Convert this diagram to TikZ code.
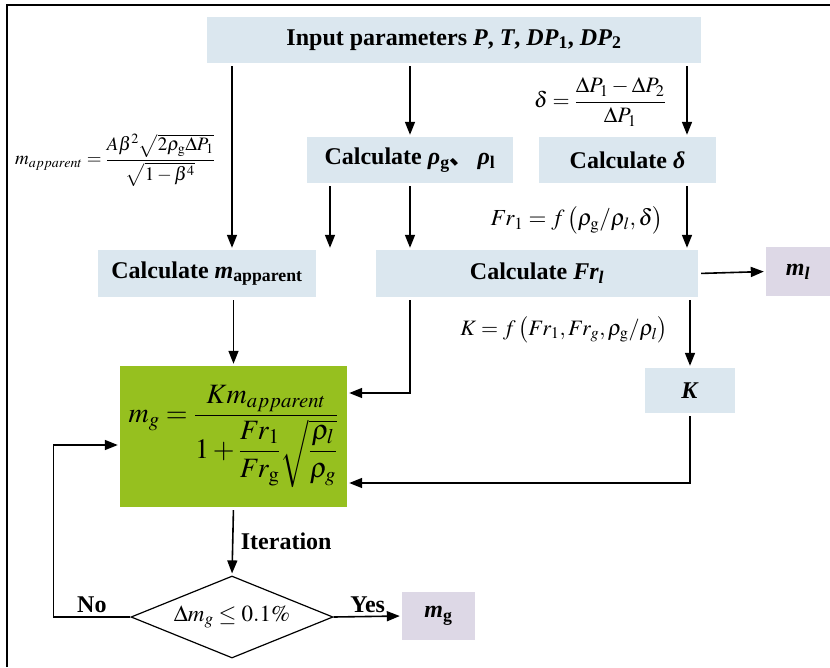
\documentclass[tikz,border=0pt]{standalone}
\usepackage{amsmath}
\usepackage{mathptmx}
\usepackage{fontspec}
\setmainfont{Liberation Serif}
\newfontfamily\cjk{Noto Sans CJK SC}
\usepackage{xcolor}
\usetikzlibrary{arrows.meta,shapes.geometric}

\definecolor{boxblue}{RGB}{219,231,239}
\definecolor{lav}{RGB}{221,216,230}
\definecolor{mgreen}{RGB}{150,192,31}

\begin{document}
\begin{tikzpicture}[x=1pt, y=-1pt,
  box/.style={fill=boxblue, minimum height=46pt, inner sep=0pt,
              font=\fontsize{24}{28}\selectfont\bfseries},
  res/.style={fill=lav, inner sep=0pt,
              font=\fontsize{24}{28}\selectfont\bfseries},
  eq/.style={inner sep=0pt, font=\fontsize{22}{26}\selectfont},
  lbl/.style={font=\fontsize{24}{28}\selectfont\bfseries},
  arr/.style={-{Triangle[length=13pt,width=10pt]}, line width=1.6pt,
              shorten <=3pt, shorten >=2pt}
]
  \useasboundingbox (0,0) rectangle (830,667);
  % frame (top and left only)
  \draw[line width=1.5pt] (7,667) -- (7,5) -- (830,5);
  % boxes
  \node[box, minimum width=494pt] (input) at (454,40)
    {Input parameters \textit{P}, \textit{T}, \textit{DP}\textsubscript{1}, \textit{DP}\textsubscript{2}};
  \node[box, minimum width=206pt] (rho)   at (410,160)
    {Calculate \textit{ρ}\textsubscript{g}{\cjk 、}\,\textit{ρ}\textsubscript{l}};
  \node[box, minimum width=177pt] (delta) at (627.5,160) {Calculate \textit{δ}};
  \node[box, minimum width=218pt, minimum height=47pt] (mapp) at (207,273.5)
    {Calculate \textit{m}\textsubscript{apparent}};
  \node[box, minimum width=322pt, minimum height=47pt] (fr) at (537,273.5)
    {Calculate \textit{Fr\textsubscript{l}}};
  \node[res, minimum width=64pt, minimum height=49pt] (ml) at (798,271.5) {\textit{m\textsubscript{l}}};
  \node[box, minimum width=90pt, minimum height=45pt] (K) at (690,390.5) {\textit{K}};
  \node[fill=mgreen, minimum width=227pt, minimum height=141pt, inner sep=0pt,
        font=\fontsize{28}{32}\selectfont] (mg) at (233.5,436.5)
    {$m_g=\dfrac{Km_{apparent}}{1+\dfrac{Fr_1}{Fr_{\mathrm{g}}}\sqrt{\dfrac{\rho_l}{\rho_g}}}$};
  \node[draw, diamond, aspect=2.5, line width=1.2pt, inner sep=0pt,
        minimum width=202pt, minimum height=82pt,
        font=\fontsize{23}{27}\selectfont] (dia) at (232,617) {$\Delta m_g\le 0.1\%$};
  \node[res, minimum width=73pt, minimum height=48pt] (mgout) at (438.5,616)
    {\textit{m}\textsubscript{g}};
  % formulas
  \node[eq] (deltaeq) at (600,102) {$\delta=\dfrac{\Delta P_1-\Delta P_2}{\Delta P_1}$};
  \node[eq, font=\fontsize{19}{22}\selectfont] (mappeq) at (115,160)
    {$m_{apparent}=\dfrac{A\beta^2\sqrt{2\rho_{\mathrm{g}}\Delta P_1}}{\sqrt{1-\beta^4}}$};
  \node[eq, font=\fontsize{23}{27}\selectfont] (freq) at (577,220)
    {$Fr_1=f\left(\rho_{\mathrm{g}}/\rho_l,\delta\right)$};
  \node[eq] (keq)  at (564,330) {$K=f\left(Fr_1,Fr_g,\rho_{\mathrm{g}}/\rho_l\right)$};
  % connections
  \draw[arr] ([xshift=25pt]mapp.north |- input.south) -- ([xshift=25pt]mapp.north);
  \draw[arr] (rho.north |- input.south) -- (rho.north);
  \draw[arr] ([xshift=59.5pt]delta.north |- input.south) -- ([xshift=59.5pt]delta.north);
  \draw[arr] ([xshift=-80pt]rho.south) -- ([xshift=-80pt]rho.south |- mapp.north);
  \draw[arr] (rho.south) -- (rho.south |- fr.north);
  \draw[arr] ([xshift=59.5pt]delta.south) -- ([xshift=59.5pt]delta.south |- fr.north);
  \draw[arr] (fr.east) -- (ml.west);
  \draw[arr] ([xshift=-127pt]fr.south) |- ([yshift=43.5pt]mg.east);
  \draw[arr] (K.north |- fr.south) -- (K.north);
  \draw[arr] (K.south) |- ([yshift=-46.5pt]mg.east);
  \draw[arr] (mg.north |- mapp.south) -- (mg.north);
  \draw[arr] (mg.south) -- (dia.north) node[midway, right, lbl, xshift=4pt] {Iteration};
  \draw[arr, shorten <=0pt] (dia.east) -- (mgout.west) node[midway, above, lbl] {Yes};
  \draw[arr, shorten <=0pt] (dia.west) -- ++(-77,0) node[midway, above, lbl] {No}
    |- ([yshift=-8.5pt]mg.west);
\end{tikzpicture}
\end{document}
